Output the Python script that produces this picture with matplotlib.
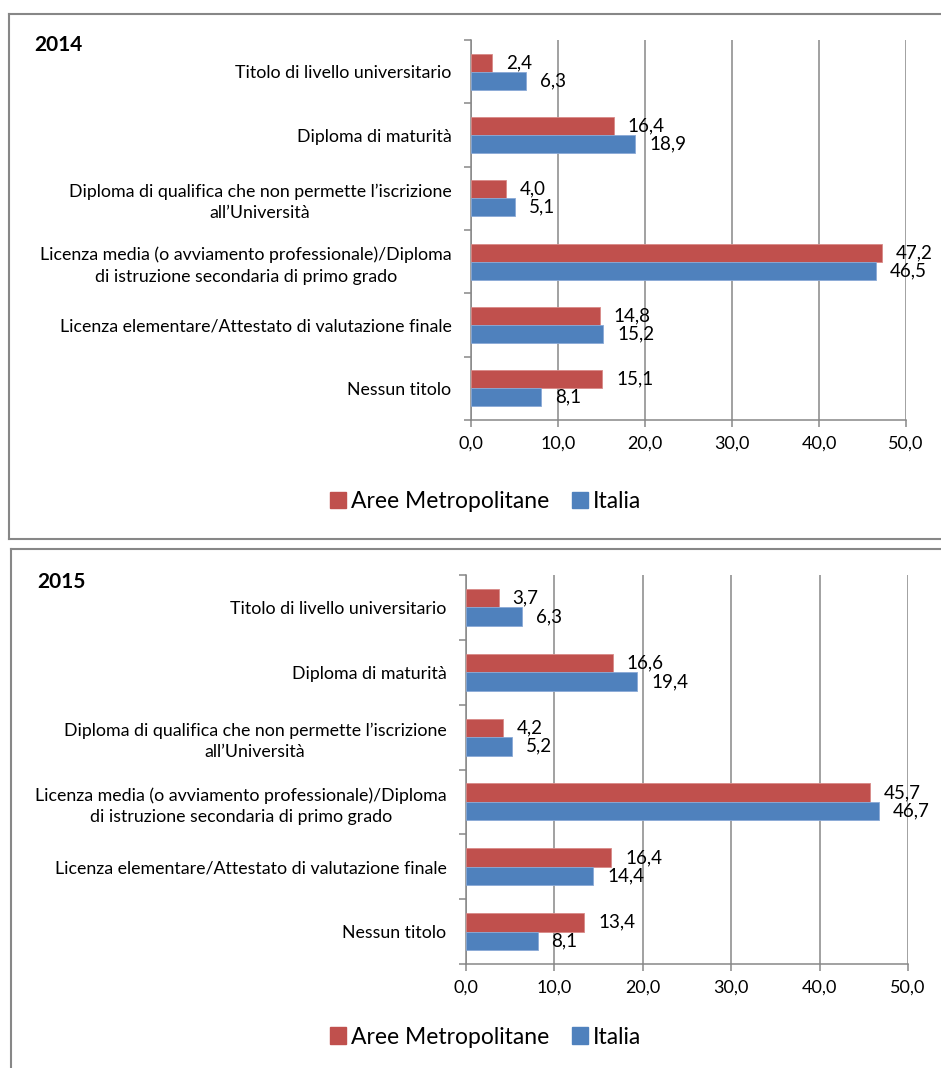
import matplotlib
matplotlib.use("Agg")
import matplotlib.pyplot as plt
from matplotlib.lines import Line2D
from matplotlib.patches import Patch
import numpy as np

plt.rcParams['font.family'] = ['Lato', 'DejaVu Sans']

# categories from bottom to top
categorie = [
    "Nessun titolo",
    "Licenza elementare/Attestato di valutazione finale",
    "Licenza media (o avviamento professionale)/Diploma\ndi istruzione secondaria di primo grado",
    "Diploma di qualifica che non permette l\u2019iscrizione\nall\u2019Universit\u00e0",
    "Diploma di maturit\u00e0",
    "Titolo di livello universitario",
]

aree_2014 = [15.1, 14.8, 47.2, 4.0, 16.4, 2.4]
italia_2014 = [8.1, 15.2, 46.5, 5.1, 18.9, 6.3]
aree_2015 = [13.4, 16.4, 45.7, 4.2, 16.6, 3.7]
italia_2015 = [8.1, 14.4, 46.7, 5.2, 19.4, 6.3]

x_ticks = [0, 10, 20, 30, 40, 50]

ROSSO = "#C0504D"
BLU = "#4F81BD"
GRIGIO = "#878787"

W, H = 941, 1068
fig = plt.figure(figsize=(W / 100, H / 100), dpi=100)


def fmt(v):
    return f"{v:.1f}".replace(".", ",")


def pannello(rect, aree, italia, anno, title_xy, legend_y):
    ax = fig.add_axes(rect)
    y = np.arange(len(categorie))
    h = 0.285
    ax.barh(y + h / 2, aree, height=h, color=ROSSO, edgecolor="#D88A88", lw=0.6, zorder=3)
    ax.barh(y - h / 2, italia, height=h, color=BLU, edgecolor="#8AA9D6", lw=0.6, zorder=3)
    for yi, a, b in zip(y, aree, italia):
        ax.annotate(fmt(a), (a, yi + h / 2), xytext=(14, 0), textcoords="offset pixels",
                    va="center", ha="left", fontsize=13.5, zorder=4)
        ax.annotate(fmt(b), (b, yi - h / 2), xytext=(14, 0), textcoords="offset pixels",
                    va="center", ha="left", fontsize=13.5, zorder=4)

    ax.set_xlim(0, 50)
    ax.set_ylim(-0.5, len(categorie) - 0.5)
    ax.set_xticks(x_ticks)
    ax.set_xticklabels([fmt(v) for v in x_ticks], fontsize=13)
    ax.set_yticks(y)
    ax.set_yticklabels(categorie, fontsize=12.8)
    for lab in ax.get_yticklabels():
        lab.set_multialignment("center")
        lab.set_linespacing(1.4)
    ax.set_yticks(np.arange(len(categorie) + 1) - 0.5, minor=True)
    ax.tick_params(axis="y", which="major", length=0, pad=14)
    ax.tick_params(axis="y", which="minor", length=5, width=1.1, color=GRIGIO, direction="out")
    ax.tick_params(axis="x", length=5, width=1.1, color=GRIGIO, pad=6)
    ax.grid(axis="x", color=GRIGIO, lw=1.1, zorder=0)
    ax.set_axisbelow(True)
    for s in ["top", "right"]:
        ax.spines[s].set_visible(False)
    for s in ["left", "bottom"]:
        ax.spines[s].set_color(GRIGIO)
        ax.spines[s].set_linewidth(1.1)

    fig.text(title_xy[0], title_xy[1], anno, fontsize=15, fontweight="bold", va="center", ha="left")

    handles = [Patch(color=ROSSO, label="Aree Metropolitane"), Patch(color=BLU, label="Italia")]
    fig.legend(handles=handles, loc="center", bbox_to_anchor=(0.516, legend_y), ncol=2,
               frameon=False, fontsize=16.5, handlelength=0.7, handleheight=0.7,
               handletextpad=0.2, columnspacing=1.0)
    return ax


pannello([471 / W, 1 - 420 / H, (906 - 471) / W, (420 - 40) / H],
         aree_2014, italia_2014, "2014", (34 / W, 1 - 45 / H), 1 - 502 / H)
pannello([466 / W, 1 - 964 / H, (908 - 466) / W, (964 - 575) / H],
         aree_2015, italia_2015, "2015", (37 / W, 1 - 582 / H), 1 - 1037 / H)

# panel borders (top, left, bottom of the first; top, left of the second)
bordo = dict(color=GRIGIO, lw=1.5, transform=fig.transFigure)
fig.add_artist(Line2D([9 / W, 1], [1 - 13.5 / H] * 2, **bordo))
fig.add_artist(Line2D([9 / W] * 2, [1 - 13.5 / H, 1 - 539 / H], **bordo))
fig.add_artist(Line2D([9 / W, 1], [1 - 539 / H] * 2, **bordo))
fig.add_artist(Line2D([11 / W, 1], [1 - 548.5 / H] * 2, **bordo))
fig.add_artist(Line2D([11 / W] * 2, [1 - 548.5 / H, 0], **bordo))

fig.savefig("out.png", dpi=100)
